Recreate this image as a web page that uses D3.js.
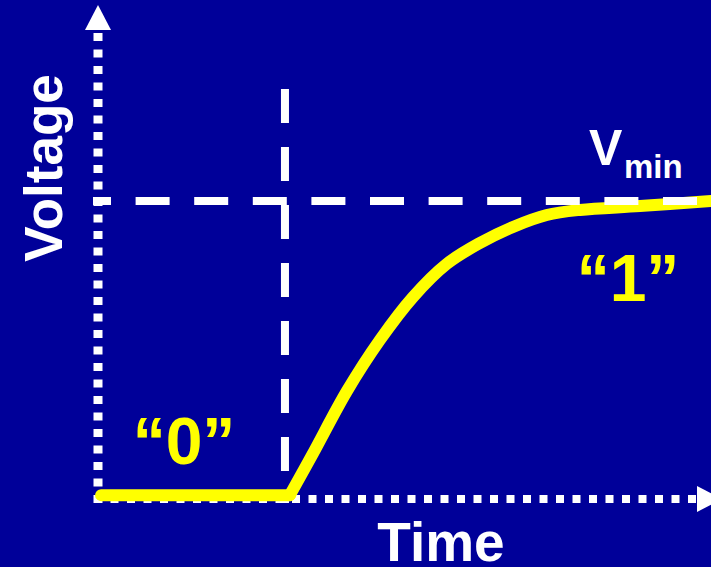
<!DOCTYPE html>
<html>
<head>
<meta charset="utf-8">
<script src="https://cdn.jsdelivr.net/npm/d3@7/dist/d3.min.js"></script>
<style>
  html, body { margin: 0; padding: 0; background: #000099; overflow: hidden; }
  svg { display: block; }
  text { font-family: "Liberation Sans", Arial, Helvetica, sans-serif; font-weight: bold; }
</style>
</head>
<body>
<script>
// ---- data ----
const lowTime = [0.05, 3.13];
const lowVoltage = [0.013, 0.013];
const riseTime = [3.13, 3.51, 4.06, 4.60, 5.14, 5.69, 6.23, 6.77, 7.32, 7.86, 8.84, 10.0];
const riseVoltage = [0.013, 0.154, 0.362, 0.534, 0.678, 0.789, 0.859, 0.913, 0.953, 0.970, 0.983, 1.0];
const switchTime = [3.05];
const vminLevel = [1.0];
const axisLabels = ["Time", "Voltage"];
const stateLabels = ["\u201C0\u201D", "\u201C1\u201D"];
const vminLabel = ["V", "min"];

const W = 711, H = 567;
const svg = d3.select("body").append("svg").attr("width", W).attr("height", H);
svg.append("rect").attr("width", W).attr("height", H).attr("fill", "#000099");

const x = d3.scaleLinear().domain([0, 10]).range([98, 711]);
const y = d3.scaleLinear().domain([0, 1]).range([499, 201]);

// axes (dotted, with arrow heads)
const ax = x(0), ay = y(0);
svg.append("line").attr("x1", ax).attr("x2", ax).attr("y1", 503).attr("y2", 30)
  .attr("stroke", "#fff").attr("stroke-width", 9).attr("stroke-dasharray", "8,8.5");
svg.append("path").attr("d", `M${ax},5 L${ax + 13},30 L${ax - 13},30 Z`).attr("fill", "#fff");
svg.append("line").attr("x1", 94).attr("x2", 697).attr("y1", ay).attr("y2", ay)
  .attr("stroke", "#fff").attr("stroke-width", 8).attr("stroke-dasharray", "8,8.5");
svg.append("path").attr("d", `M722,${ay} L697,${ay - 13} L697,${ay + 13} Z`).attr("fill", "#fff");

// vertical dashed switching line
svg.append("line").attr("x1", x(switchTime[0])).attr("x2", x(switchTime[0]))
  .attr("y1", 89).attr("y2", 503)
  .attr("stroke", "#fff").attr("stroke-width", 8).attr("stroke-dasharray", "34,24");

// signal curve
const lowData = lowTime.map((t, i) => [t, lowVoltage[i]]);
const riseData = riseTime.map((t, i) => [t, riseVoltage[i]]);
const lineLin = d3.line().x(d => x(d[0])).y(d => y(d[1]));
const lineSmooth = d3.line().x(d => x(d[0])).y(d => y(d[1])).curve(d3.curveCatmullRom.alpha(0.5));
svg.append("path").attr("d", lineLin(lowData)).attr("fill", "none")
  .attr("stroke", "#ffff00").attr("stroke-width", 12).attr("stroke-linecap", "round");
svg.append("path").attr("d", lineSmooth(riseData)).attr("fill", "none")
  .attr("stroke", "#ffff00").attr("stroke-width", 12).attr("stroke-linecap", "round")
  .attr("stroke-linejoin", "round");

// horizontal dashed Vmin line (on top of curve)
svg.append("line").attr("x1", 93).attr("x2", 711)
  .attr("y1", y(vminLevel[0])).attr("y2", y(vminLevel[0]))
  .attr("stroke", "#fff").attr("stroke-width", 8)
  .attr("stroke-dasharray", "34,24.6").attr("stroke-dashoffset", 16);

// labels
svg.append("text").attr("x", 441).attr("y", 561).attr("text-anchor", "middle")
  .attr("font-size", 55).attr("fill", "#fff").text(axisLabels[0]);
svg.append("text").attr("transform", "translate(62,168) rotate(-90)")
  .attr("text-anchor", "middle").attr("font-size", 53).attr("fill", "#fff").text(axisLabels[1]);

svg.append("text").attr("x", 184).attr("y", 464).attr("text-anchor", "middle")
  .attr("font-size", 66).attr("fill", "#ffff00").text(stateLabels[0]);
svg.append("text").attr("x", 628).attr("y", 301).attr("text-anchor", "middle")
  .attr("font-size", 66).attr("fill", "#ffff00").text(stateLabels[1]);

svg.append("text").attr("x", 589).attr("y", 165).attr("font-size", 50)
  .attr("fill", "#fff").text(vminLabel[0]);
svg.append("text").attr("x", 624).attr("y", 178).attr("font-size", 33)
  .attr("fill", "#fff").text(vminLabel[1]);
</script>
</body>
</html>
